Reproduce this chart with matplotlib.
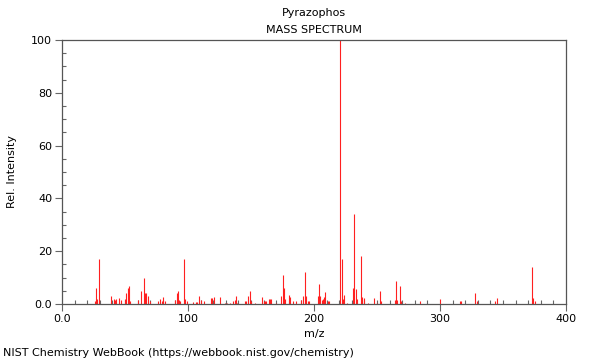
import matplotlib
matplotlib.use("Agg")
import matplotlib.pyplot as plt
from matplotlib.ticker import MultipleLocator, FixedLocator, FixedFormatter

# peaks (m/z, relative intensity)
mz = [26, 27, 28, 29, 39, 41, 42, 43, 45, 47, 50, 51, 52, 53, 54, 60,
      63, 65, 66, 67, 68, 70, 76, 78, 79, 80, 82, 90, 91, 92, 93, 94,
      97, 98, 99, 104, 106, 107, 109, 110, 113, 118, 119, 121, 125,
      129, 131, 133, 136, 137, 138, 139, 145, 146, 148, 149, 150, 153,
      159, 160, 161, 162, 164, 165, 166, 170, 174, 175, 176, 177, 180,
      181, 183, 186, 190, 191, 193, 194, 195, 196, 203, 204, 205, 206,
      207, 208, 209, 211, 212, 221, 222, 223, 224, 226, 231, 232, 233,
      234, 237, 238, 240, 243, 248, 250, 252, 253, 264, 265, 266, 268,
      269, 272, 284, 300, 316, 317, 328, 329, 344, 345, 373, 374, 375]
intensity = [1, 6, 2, 17, 3, 2, 1.5, 2, 2.3, 1.5, 2, 4, 6, 7, 1, 1.5,
             5, 10, 4, 4, 3, 1, 1, 2, 1.3, 2.5, 1, 1.5, 4, 5, 1.5, 1,
             17, 2, 1, 0.8, 0.8, 0.8, 3, 1.5, 1, 2.3, 2.3, 2.8, 2.8,
             0.5, 0.5, 0.5, 1, 1.5, 3, 0.5, 1, 1, 3, 5, 1, 0.5,
             2.8, 1, 1.3, 1.3, 2, 1.9, 2, 0.5, 3, 11, 6, 2, 3.5,
             2.5, 1, 1, 1.5, 3, 12, 3, 1, 1, 3, 7.5, 3, 1.5,
             2, 2.5, 4.4, 1, 1, 100, 17, 2, 3.5, 0.5, 6, 34, 5.7,
             2, 18, 2.8, 2.3, 0.5, 2.3, 0.5, 5, 1, 1.5, 8.8, 1.5, 6.9,
             1, 0.5, 1, 1.9, 1, 1.3, 4.2, 1, 1, 2.3, 14, 2.3, 1]

x_ticks = [0, 100, 200, 300, 400]
x_labels = ["0.0", "100", "200", "300", "400"]
y_ticks = [0, 20, 40, 60, 80, 100]
y_labels = ["0.0", "20", "40", "60", "80", "100"]

plt.rcParams["font.family"] = "DejaVu Sans"
plt.rcParams["font.size"] = 8

fig = plt.figure(figsize=(6, 3.6), dpi=100)
ax = fig.add_axes([62 / 600, 1 - 304 / 360, 504 / 600, 264 / 360])

ax.vlines(mz, 0, intensity, color="#ff2020", lw=0.8)

ax.set_xlim(0, 400)
ax.set_ylim(0, 100)
ax.xaxis.set_major_locator(FixedLocator(x_ticks))
ax.xaxis.set_major_formatter(FixedFormatter(x_labels))
ax.yaxis.set_major_locator(FixedLocator(y_ticks))
ax.yaxis.set_major_formatter(FixedFormatter(y_labels))
ax.xaxis.set_minor_locator(MultipleLocator(10))
ax.yaxis.set_minor_locator(MultipleLocator(5))
ax.tick_params(which="major", direction="out", length=5, width=0.8,
               color="#666666", labelsize=8, pad=2)
ax.tick_params(which="minor", direction="in", length=3, width=0.8,
               color="#666666")
for s in ax.spines.values():
    s.set_color("#555555")
    s.set_linewidth(0.9)

ax.set_xlabel("m/z", fontsize=8, labelpad=4)
ax.set_ylabel("Rel. Intensity", fontsize=8, labelpad=10)

fig.text(314 / 600, 1 - 13 / 360, "Pyrazophos", ha="center", va="center", fontsize=8)
fig.text(314 / 600, 1 - 30 / 360, "MASS SPECTRUM", ha="center", va="center", fontsize=8)
fig.text(3 / 600, 1 - 353 / 360, "NIST Chemistry WebBook (https://webbook.nist.gov/chemistry)",
         ha="left", va="center", fontsize=8)

fig.savefig("out.png", dpi=100)
